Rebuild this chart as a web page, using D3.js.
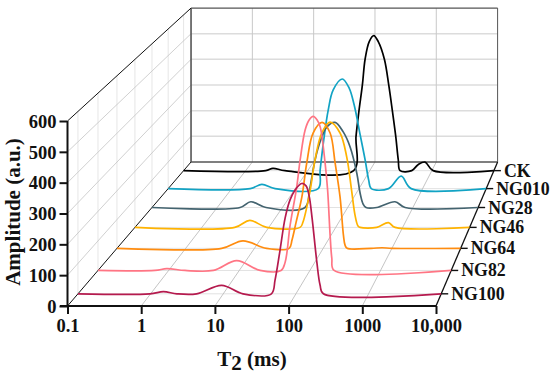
<!DOCTYPE html>
<html>
<head>
<meta charset="utf-8">
<script src="https://d3js.org/d3.v7.min.js"></script>
<style>
  body { margin: 0; background: #fff; }
  text { font-family: "Liberation Serif", serif; font-weight: bold; fill: #111; }
</style>
</head>
<body>
<svg id="chart" width="550" height="375"></svg>
<script>
// series, back to front. each point is [T2 in ms, amplitude]
var names = ["CK", "NG010", "NG28", "NG46", "NG64", "NG82", "NG100"];
var colors = ["#000000", "#12a3c4", "#43636f", "#ffb300", "#ff8c0f", "#ff7584", "#b51a4e"];

var ck = [[0.1,0],[2.1,0],[2.75,9],[4.3,0],[55,0],[60,132],[67,231],[76,330],[84,429],[98,497],[116,520],[137,497],[172,429],[202,330],[231,231],[262,132],[288,41],[308,0],[474,0],[600,23],[777,33],[1047,0],[10000,0]];
var ng010 = [[0.1,0],[1.95,0],[2.97,16],[4.8,0],[22.8,0],[24.5,70],[27.9,183],[32.8,295],[39.3,371],[54.5,412],[70,378],[84,314],[104.5,201],[125,107],[142,32],[156,0],[291,0],[461,47],[661,0],[10000,0]];
var ng28 = [[0.1,0],[2.24,0],[3.27,21],[5.6,0],[22.2,0],[26,64],[30.5,156],[35.6,222],[47.9,295],[64,312],[85,278],[109,222],[138,126],[155,53],[172,13],[191,0],[279,0],[533,21],[759,0],[10000,0]];
var ng46 = [[0.1,0],[3.1,0],[5.2,25],[9.3,0],[29.3,0],[32.4,19],[41.3,130],[49,241],[61.8,337],[82,376],[116,337],[146,251],[172,134],[194,44],[215,5],[231,0],[410,0],[611,17],[770,0],[10000,0]];
var ng64 = [[0.1,0],[3.34,0],[6.8,26],[15,0],[31.9,0],[35.2,29],[40.4,91],[48.9,178],[57.7,297],[71.3,401],[96.4,438],[126,401],[149,297],[176,178],[197,46],[208,11],[223,0],[501,0],[720,2],[1000,0],[10000,0]];
var ng82 = [[0.1,0],[0.64,0],[0.94,6],[1.7,0],[4.3,0],[9.2,33],[19.7,0],[39,0],[44.6,28],[52.5,154],[65,282],[72.6,373],[85.5,475],[97.4,509],[111,521],[126.5,509],[140,485],[164,363],[178,272],[193,120],[204,42],[220,0],[10000,0]];
var ng100 = [[0.1,0],[0.98,0],[1.5,7],[2.3,0],[4.3,0],[9.5,28],[18.7,0],[46,0],[51.6,45],[60.5,144],[71,249],[83,309],[97,341],[120,363],[138,355],[152,322],[167,249],[194,105],[215,29],[239,0],[10000,0]];
var seriesData = [ck, ng010, ng28, ng46, ng64, ng82, ng100];

var xTicks = [0.1, 1, 10, 100, 1000, 10000];
var xTickLabels = ["0.1", "1", "10", "100", "1000", "10,000"];
var yTicks = [0, 100, 200, 300, 400, 500, 600];

var svg = d3.select("#chart");

// front plane scales
var scX = d3.scaleLog().domain([0.1, 10000]).range([67.5, 436]);
var scY = d3.scaleLinear().domain([0, 600]).range([306, 121]);
// depth: 0 = front, 1 = back wall. series sit in the middle of equal bands
var scD = d3.scalePoint().domain(names.slice().reverse()).range([0, 1]).padding(0.5);

// perspective towards a vanishing point, worked out from the wall corners
var vx = 802.6, vy = -551, k = 0.202;
function px(t, d) { return vx + (scX(t) - vx) / (1 + k * d); }
function py(a, d) { return vy + (scY(a) - vy) / (1 + k * d); }

function seg(x1, y1, x2, y2, col, w) {
  svg.append("line").attr("x1", x1).attr("y1", y1).attr("x2", x2).attr("y2", y2)
    .attr("stroke", col).attr("stroke-width", w);
}

// left wall
names.forEach(function(n) {
  var d = scD(n);
  seg(px(0.1, d), py(0, d), px(0.1, d), py(600, d), "#e6e6e6", 1);
});
yTicks.forEach(function(a) {
  if (a > 0 && a < 600) seg(px(0.1, 0), py(a, 0), px(0.1, 1), py(a, 1), "#c4c4c4", 0.8);
});

// back wall
yTicks.forEach(function(a) {
  if (a > 0 && a < 600) seg(px(0.1, 1), py(a, 1), px(10000, 1), py(a, 1), "#dcdcdc", 1.5);
});
xTicks.slice(1, 5).forEach(function(t) {
  seg(px(t, 1), py(0, 1), px(t, 1), py(600, 1), "#c8c8c8", 1);
});

// floor
names.forEach(function(n) {
  var d = scD(n);
  seg(px(0.1, d), py(0, d), px(10000, d), py(0, d), "#e2e2e2", 1);
});
xTicks.slice(1, 5).forEach(function(t) {
  seg(px(t, 0), py(0, 0), px(t, 1), py(0, 1), "#bdbdbd", 0.9);
});

// frame
seg(px(0.1, 1), py(0, 1), px(0.1, 1), py(600, 1), "#555", 1.6);
seg(px(0.1, 1), py(600, 1), px(10000, 1), py(600, 1), "#555", 1.2);
seg(px(10000, 1), py(0, 1), px(10000, 1), py(600, 1), "#555", 1);
seg(px(0.1, 1), py(0, 1), px(10000, 1), py(0, 1), "#555", 1.3);
seg(px(0.1, 0), py(600, 0), px(0.1, 1), py(600, 1), "#111", 1);
seg(px(0.1, 0), py(0, 0), px(0.1, 1), py(0, 1), "#111", 1);
seg(px(10000, 0), py(0, 0), px(10000, 1), py(0, 1), "#111", 1.3);

// curves
var line = d3.line().curve(d3.curveCatmullRom.alpha(0.5));
names.forEach(function(n, i) {
  var d = scD(n);
  svg.append("path")
    .attr("d", line(seriesData[i].map(function(p) { return [px(p[0], d), py(p[1], d)]; })))
    .attr("fill", "none").attr("stroke", colors[i]).attr("stroke-width", 1.7);
  // tick and name on the right edge
  seg(px(10000, d), py(0, d), px(10000, d) + 7, py(0, d), "#111", 1.4);
  svg.append("text").attr("x", px(10000, d) + 10).attr("y", py(0, d) + 6)
    .attr("font-size", 17.8).text(n);
});

// front axes
var axisY = d3.axisLeft(scY).tickValues(yTicks).tickSize(8).tickFormat(d3.format("d"));
var axisX = d3.axisBottom(scX).tickValues(xTicks).tickSize(8)
  .tickFormat(function(t, i) { return xTickLabels[i]; });

var gy = svg.append("g").attr("transform", "translate(67.5,0)").call(axisY);
var gx = svg.append("g").attr("transform", "translate(0,306)").call(axisX);
[gy, gx].forEach(function(g) {
  g.selectAll("path,line").attr("stroke", "#111").attr("stroke-width", 2);
  g.selectAll("text").attr("font-size", 18.5).attr("font-family", null).attr("fill", null);
  g.attr("font-family", null).attr("font-size", null);
});
gy.select("path").attr("d", "M0,121V306");
gx.select("path").attr("d", "M60,0H436");
gy.selectAll("text").attr("x", -11).attr("dy", "0.34em");
gx.selectAll("text").attr("y", 13).attr("dy", "0.71em");

// axis titles
svg.append("text").attr("transform", "translate(20,212) rotate(-90)")
  .attr("text-anchor", "middle").attr("font-size", 21).text("Amplitude (a.u.)");

var xt = svg.append("text").attr("x", 252).attr("y", 366).attr("text-anchor", "middle").attr("font-size", 21);
xt.append("tspan").text("T");
xt.append("tspan").attr("dy", 4).text("2");
xt.append("tspan").attr("dy", -4).text(" (ms)");
</script>
</body>
</html>
